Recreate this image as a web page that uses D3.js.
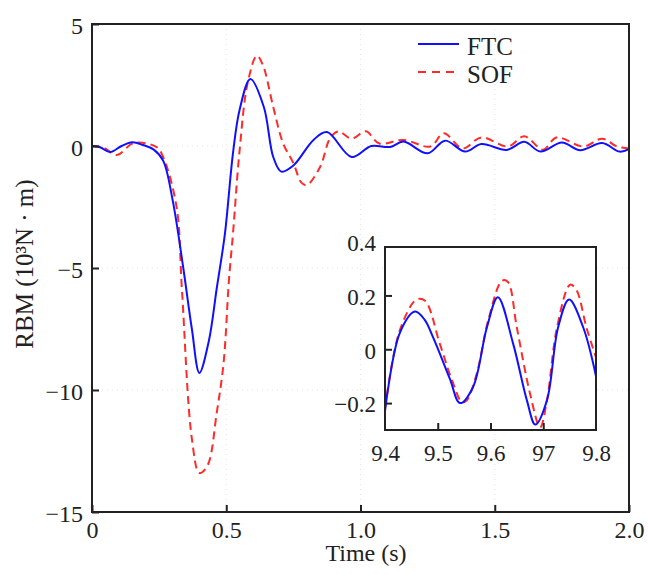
<!DOCTYPE html>
<html><head><meta charset="utf-8">
<script src="https://cdn.jsdelivr.net/npm/d3@7"></script>
<style>body{margin:0;background:#fff}svg{display:block}</style>
</head><body><svg id="c" width="648" height="575"></svg>
<script>
// Main chart data (time in s, RBM)
const ftcT = [0,0.03,0.067,0.11,0.15,0.19,0.23,0.265,0.30,0.34,0.372,0.40,0.435,0.465,0.495,0.525,0.55,0.59,0.64,0.675,0.705,0.75,0.825,0.875,0.967,1.04,1.11,1.16,1.25,1.315,1.39,1.45,1.545,1.61,1.67,1.75,1.818,1.90,1.965,2.0];
const ftcV = [0,-0.05,-0.25,0,0.15,0.04,-0.15,-0.6,-2.2,-5.0,-7.5,-9.3,-8.0,-5.8,-3.6,-0.3,1.5,2.75,1.6,-0.45,-1.05,-0.8,0.25,0.57,-0.45,0,-0.04,0.18,-0.3,0.22,-0.23,0.08,-0.16,0.17,-0.23,0.14,-0.17,0.12,-0.23,-0.13];
const sofT = [0,0.04,0.093,0.155,0.24,0.265,0.315,0.335,0.372,0.40,0.43,0.465,0.49,0.51,0.525,0.55,0.58,0.614,0.637,0.675,0.712,0.75,0.78,0.80,0.85,0.886,0.917,0.967,1.02,1.07,1.16,1.26,1.31,1.38,1.45,1.55,1.61,1.68,1.73,1.83,1.90,1.955,2.0];
const sofV = [0,-0.05,-0.37,0.12,-0.04,-0.45,-2.5,-5.9,-12,-13.4,-13.1,-10.9,-8.9,-5.5,-3.6,-0.15,2.6,3.7,3.3,1.6,0.1,-0.7,-1.5,-1.6,-0.85,0.3,0.6,0.3,0.6,0.1,0.25,-0.02,0.52,-0.1,0.35,-0.02,0.4,-0.15,0.35,-0.02,0.3,-0.02,-0.1];
// Inset data (9.4 - 9.8 s)
const ftcInT = [9.4,9.428,9.457,9.475,9.491,9.523,9.542,9.567,9.593,9.614,9.643,9.669,9.685,9.707,9.728,9.749,9.776,9.8];
const ftcInV = [-0.23,0.06,0.14,0.11,0.045,-0.11,-0.2,-0.14,0.08,0.193,0.02,-0.19,-0.28,-0.19,0.08,0.185,0.08,-0.10];
const sofInT = [9.4,9.428,9.46,9.476,9.504,9.527,9.546,9.555,9.574,9.596,9.622,9.633,9.65,9.675,9.694,9.707,9.726,9.751,9.763,9.782,9.8];
const sofInV = [-0.22,0.07,0.185,0.18,0.02,-0.115,-0.197,-0.19,-0.09,0.11,0.255,0.25,0.08,-0.165,-0.29,-0.19,0.08,0.24,0.22,0.08,-0.03];
// Ticks
const xTicks = [0,0.5,1,1.5,2];
const xTickLabels = ["0","0.5","1.0","1.5","2.0"];
const yTicks = [5,0,-5,-10,-15];
const yTickLabels = ["5","0","\u22125","\u221210","\u221215"];
const inXTicks = [9.4,9.5,9.6,9.7,9.8];
const inXTickLabels = ["9.4","9.5","9.6","97","9.8"];
const inYTicks = [0.4,0.2,0,-0.2];
const inYTickLabels = ["0.4","0.2","0","\u22120.2"];
const seriesNames = ["FTC","SOF"];
const colors = ["#1010ff","#ff2a2a"];
const FONT = "'Liberation Serif','Times New Roman',serif";

const svg = d3.select("#c");
const L=92,R=629,T=24,B=512;
const x = d3.scaleLinear().domain([0,2]).range([L,R]);
const y = d3.scaleLinear().domain([-15,5]).range([B,T]);

// faint grid
const g = svg.append("g");
g.selectAll(".gx").data(xTicks.slice(1,-1)).enter().append("line")
 .attr("x1",d=>x(d)).attr("x2",d=>x(d)).attr("y1",T).attr("y2",B)
 .attr("stroke","#e4e4e4").attr("stroke-dasharray","1,4");
g.selectAll(".gy").data(yTicks.slice(1,-1)).enter().append("line")
 .attr("y1",d=>y(d)).attr("y2",d=>y(d)).attr("x1",L).attr("x2",R)
 .attr("stroke","#e4e4e4").attr("stroke-dasharray","1,4");

const line = d3.line().curve(d3.curveCatmullRom.alpha(0.5));
function pts(T_,V_,xs,ys){return T_.map((t,i)=>[xs(t),ys(V_[i])]);}

svg.append("path").attr("d",line(pts(sofT,sofV,x,y))).attr("fill","none")
 .attr("stroke",colors[1]).attr("stroke-width",2).attr("stroke-dasharray","8,5");
svg.append("path").attr("d",line(pts(ftcT,ftcV,x,y))).attr("fill","none")
 .attr("stroke",colors[0]).attr("stroke-width",2);

function styleAxis(a,size){
 a.attr("font-family",null).attr("font-size",null);
 a.select(".domain").remove();
 a.selectAll("line").attr("stroke","#222").attr("stroke-width",2);
 a.selectAll("text").style("font-family",FONT).style("font-size",size+"px").attr("fill","#222");
}

// axes
const ax = svg.append("g").attr("transform",`translate(0,${B})`)
 .call(d3.axisBottom(x).tickValues(xTicks).tickSizeInner(-7).tickSizeOuter(0).tickPadding(10).tickFormat((d,i)=>xTickLabels[i]));
const ay = svg.append("g").attr("transform",`translate(${L},0)`)
 .call(d3.axisLeft(y).tickValues(yTicks).tickSizeInner(-7).tickSizeOuter(0).tickPadding(9).tickFormat((d,i)=>yTickLabels[i]));
styleAxis(ax,24); styleAxis(ay,24);
ay.selectAll("text").attr("dy","0.4em");
ax.selectAll("text").attr("dy","0.68em");
svg.append("rect").attr("x",L).attr("y",T).attr("width",R-L).attr("height",B-T)
 .attr("fill","none").attr("stroke","#222").attr("stroke-width",2);

// titles
svg.append("text").attr("x",366).attr("y",561).attr("text-anchor","middle")
 .style("font-family",FONT).style("font-size","24px").attr("fill","#222").text("Time (s)");
svg.append("text").attr("transform","translate(33,264) rotate(-90)").attr("text-anchor","middle")
 .style("font-family",FONT).style("font-size","25px").attr("fill","#222").text("RBM (10\u00B3N \u00B7 m)");

// legend
seriesNames.forEach((n,i)=>{
 const ly = 44 + i*28;
 svg.append("line").attr("x1",418).attr("x2",459).attr("y1",ly).attr("y2",ly)
  .attr("stroke",colors[i]).attr("stroke-width",2).attr("stroke-dasharray",i?"8,6":null);
 svg.append("text").attr("x",467).attr("y",ly+11).style("font-family",FONT).style("font-size","25px").attr("fill","#222").text(n);
});

// inset
const iL=385,iR=596,iT=247,iB=430;
const xi = d3.scaleLinear().domain([9.4,9.8]).range([iL,iR]);
const yi = d3.scaleLinear().domain([-0.3,0.38]).range([iB,iT]);
svg.append("rect").attr("x",iL).attr("y",iT).attr("width",iR-iL).attr("height",iB-iT).attr("fill","#fff");
svg.append("clipPath").attr("id","ic").append("rect").attr("x",iL).attr("y",iT).attr("width",iR-iL).attr("height",iB-iT);
const ig = svg.append("g").attr("clip-path","url(#ic)");
ig.append("path").attr("d",line(pts(sofInT,sofInV,xi,yi))).attr("fill","none")
 .attr("stroke",colors[1]).attr("stroke-width",2).attr("stroke-dasharray","8,5");
ig.append("path").attr("d",line(pts(ftcInT,ftcInV,xi,yi))).attr("fill","none")
 .attr("stroke",colors[0]).attr("stroke-width",2);
const iax = svg.append("g").attr("transform",`translate(0,${iB})`)
 .call(d3.axisBottom(xi).tickValues(inXTicks).tickSizeInner(-7).tickSizeOuter(0).tickPadding(15).tickFormat((d,i)=>inXTickLabels[i]));
const iay = svg.append("g").attr("transform",`translate(${iL},0)`)
 .call(d3.axisLeft(yi).tickValues(inYTicks).tickSizeInner(-7).tickSizeOuter(0).tickPadding(9).tickFormat((d,i)=>inYTickLabels[i]));
styleAxis(iax,23); styleAxis(iay,23);
iay.selectAll(".tick").filter(d=>d>0.38).select("line").remove();
iax.selectAll(".tick").filter(d=>d===9.4||d===9.8).select("line").remove();
iay.selectAll("text").attr("dy","0.38em");
iax.selectAll("text").attr("dy","0.71em");
svg.append("rect").attr("x",iL).attr("y",iT).attr("width",iR-iL).attr("height",iB-iT)
 .attr("fill","none").attr("stroke","#222").attr("stroke-width",2);
</script></body></html>
